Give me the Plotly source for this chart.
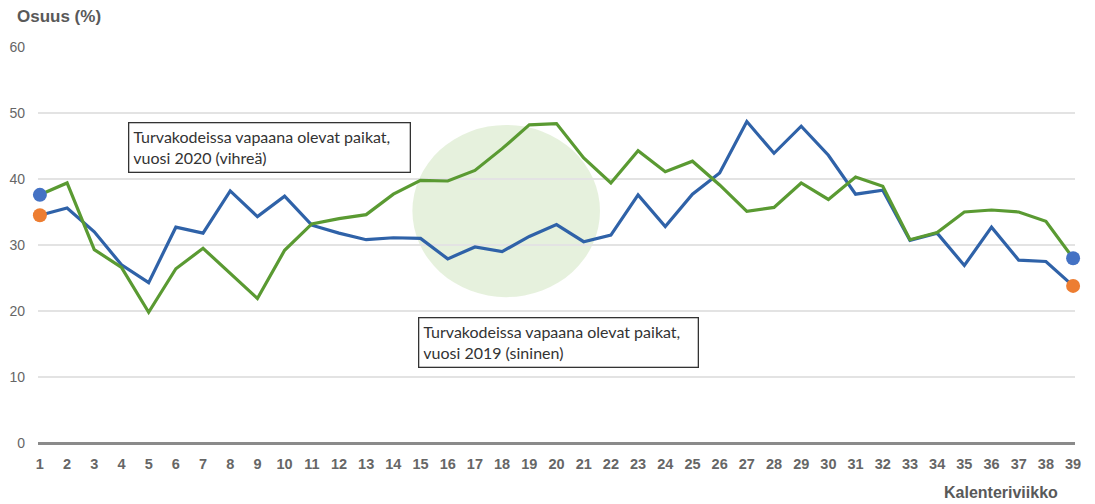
import plotly.graph_objects as go

weeks = list(range(1, 40))
green_2020 = [37.6, 39.4, 29.3, 26.6, 19.8, 26.4, 29.5, 25.7, 21.9, 29.2,
              33.2, 34.0, 34.6, 37.7, 39.8, 39.7, 41.3, 44.6, 48.2, 48.4,
              43.2, 39.4, 44.3, 41.1, 42.7, 39.1, 35.1, 35.7, 39.4, 36.9,
              40.3, 38.9, 30.8, 31.9, 35.0, 35.3, 35.0, 33.6, 28.0]
blue_2019 = [34.5, 35.6, 32.0, 27.0, 24.3, 32.7, 31.8, 38.2, 34.3, 37.4,
             33.0, 31.8, 30.8, 31.1, 31.0, 27.9, 29.7, 29.0, 31.3, 33.1,
             30.5, 31.5, 37.6, 32.8, 37.7, 40.9, 48.7, 43.9, 48.0, 43.6,
             37.7, 38.3, 30.7, 31.8, 26.9, 32.7, 27.7, 27.5, 23.8]
blue_dots_x = [1, 39]
blue_dots_y = [37.6, 28.0]
orange_dots_x = [1, 39]
orange_dots_y = [34.5, 23.8]
y_ticks = [0, 10, 20, 30, 40, 50, 60]
label_2020 = "Turvakodeissa vapaana olevat paikat,<br>vuosi 2020 (vihreä)"
label_2019 = "Turvakodeissa vapaana olevat paikat,<br>vuosi 2019 (sininen)"

GREEN = "#5a9a32"
BLUE = "#2f62a8"
GRAY = "#666666"

fig = go.Figure()
fig.add_shape(type="circle", xref="x", yref="y", x0=14.7, x1=21.6, y0=22.1, y1=48.2,
              fillcolor="rgba(140,190,100,0.22)", line=dict(width=0), layer="below")
fig.add_trace(go.Scatter(x=weeks, y=blue_2019, mode="lines",
                         line=dict(color=BLUE, width=3.2), showlegend=False))
fig.add_trace(go.Scatter(x=weeks, y=green_2020, mode="lines",
                         line=dict(color=GREEN, width=3.2), showlegend=False))
fig.add_trace(go.Scatter(x=blue_dots_x, y=blue_dots_y, mode="markers",
                         marker=dict(color="#4472c4", size=14), showlegend=False, cliponaxis=False))
fig.add_trace(go.Scatter(x=orange_dots_x, y=orange_dots_y, mode="markers",
                         marker=dict(color="#ed7d31", size=14), showlegend=False, cliponaxis=False))

box_font = dict(family="Lato", size=16, color="#333333")
fig.add_annotation(x=9.43, y=44.8, xref="x", yref="y", text=label_2020, showarrow=False,
                   align="left", xanchor="center", yanchor="middle", font=box_font,
                   bordercolor="#333333", borderwidth=1.3, borderpad=4, bgcolor="white",
                   width=272, height=40)
fig.add_annotation(x=20.08, y=15.2, xref="x", yref="y", text=label_2019, showarrow=False,
                   align="left", xanchor="center", yanchor="middle", font=box_font,
                   bordercolor="#333333", borderwidth=1.3, borderpad=4, bgcolor="white",
                   width=270, height=40)
fig.add_annotation(x=-0.022, y=1.078, xref="paper", yref="paper",
                   text="Osuus (%)", showarrow=False, xanchor="left", yanchor="middle",
                   font=dict(family="Liberation Sans", size=17, color="#595959", weight="bold"))
fig.add_annotation(x=0.9855, y=-0.124, xref="paper", yref="paper",
                   text="Kalenteriviikko", showarrow=False, xanchor="right", yanchor="middle",
                   font=dict(family="Liberation Sans", size=16, color="#595959", weight="bold"))

fig.update_layout(
    width=1095, height=504,
    margin=dict(l=38, r=20, t=47, b=61),
    plot_bgcolor="white", paper_bgcolor="white",
    xaxis=dict(range=[0.93, 39.07], tickmode="array", tickvals=weeks,
               ticktext=[str(w) for w in weeks], showgrid=False, zeroline=False,
               showline=False, ticks="", ticklen=0, automargin=False, ticklabelstandoff=10,
               tickfont=dict(family="Liberation Sans", size=14.5, color=GRAY, weight="bold")),
    yaxis=dict(range=[0, 60], tickvals=y_ticks, showgrid=True, gridcolor="#e3e3e3",
               gridwidth=1.5, zeroline=True, zerolinecolor="#8a8a8a", zerolinewidth=2.5,
               showline=False, ticks="", ticklabelstandoff=12, automargin=False,
               tickfont=dict(family="Liberation Sans", size=14, color=GRAY)),
)
fig.write_html("out.html", config={"displayModeBar": False},
               post_script="document.body.style.margin='0';")
